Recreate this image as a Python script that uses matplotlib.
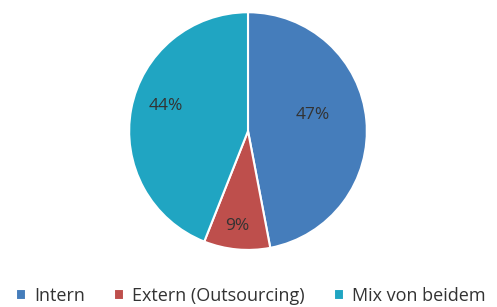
import matplotlib.pyplot as plt
import numpy as np

labels = ["Intern", "Extern (Outsourcing)", "Mix von beidem"]
values = [47, 9, 44]
colors = ["#457DBB", "#BE4F4C", "#20A5C2"]
label_r = [0.56, 0.8, 0.72]
label_turn = [9, -1, -6]   # degrees, nudges label off the wedge centre line

plt.rcParams['font.family'] = ['Open Sans', 'DejaVu Sans']

fig = plt.figure(figsize=(4.97, 3.07), dpi=100)
ax = fig.add_axes([0.499 - 0.2415, 0.573 - 0.391, 0.483, 0.782])

wedges, _ = ax.pie(values, colors=colors, startangle=90, counterclock=False,
                   wedgeprops=dict(edgecolor="white", linewidth=1.5))
ax.set_xlim(-1.01, 1.01)
ax.set_ylim(-1.01, 1.01)
ax.set_aspect("equal")

total = sum(values)
for w, v, r, t in zip(wedges, values, label_r, label_turn):
    mid = np.deg2rad((w.theta1 + w.theta2) / 2 + t)
    ax.text(r * np.cos(mid), r * np.sin(mid), f"{round(v / total * 100)}%",
            ha="center", va="center", fontsize=12.5, color="#333333")

fig.legend(wedges, labels, loc="center", bbox_to_anchor=(0.505, 0.035), ncol=3,
           frameon=False, fontsize=13, handlelength=0.55, handleheight=0.55,
           handletextpad=0.45, columnspacing=1.6, labelcolor="#333333")

plt.savefig("out.png", dpi=100)
